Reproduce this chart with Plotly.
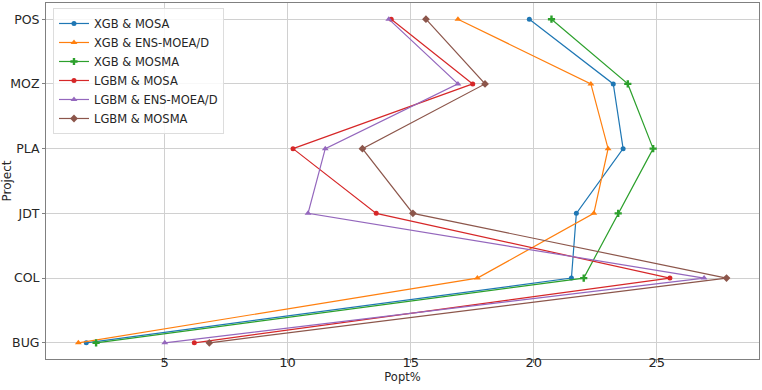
import plotly.graph_objects as go

projects = ["POS", "MOZ", "PLA", "JDT", "COL", "BUG"]

xgb_mosa = [19.82, 23.23, 23.63, 21.73, 21.53, 1.82]
xgb_ens = [16.92, 22.32, 23.02, 22.44, 17.71, 1.50]
xgb_mosma = [20.72, 23.82, 24.85, 23.43, 22.03, 2.22]
lgbm_mosa = [14.21, 17.52, 10.22, 13.60, 25.53, 6.21]
lgbm_ens = [14.11, 16.92, 11.53, 10.83, 26.92, 5.01]
lgbm_mosma = [15.62, 18.02, 13.04, 15.09, 27.83, 6.82]

series = [
    ("XGB & MOSA", xgb_mosa, "#1f77b4", "circle", 5),
    ("XGB & ENS-MOEA/D", xgb_ens, "#ff7f0e", "triangle-up", 6),
    ("XGB & MOSMA", xgb_mosma, "#2ca02c", "cross", 6),
    ("LGBM & MOSA", lgbm_mosa, "#d62728", "circle", 5),
    ("LGBM & ENS-MOEA/D", lgbm_ens, "#9467bd", "triangle-up", 6),
    ("LGBM & MOSMA", lgbm_mosma, "#8c564b", "diamond", 6),
]

fig = go.Figure()
for name, vals, color, sym, size in series:
    fig.add_trace(go.Scatter(
        x=vals, y=projects, mode="lines+markers", name=name,
        line=dict(color=color, width=1.2),
        marker=dict(symbol=sym, size=size, color=color),
    ))

font = "DejaVu Sans, Arial, sans-serif"
fig.update_layout(
    width=762, height=390,
    margin=dict(l=46, r=3, t=3, b=31),
    paper_bgcolor="white", plot_bgcolor="white",
    font=dict(family=font, size=12, color="#262626"),
    showlegend=True,
    legend=dict(
        x=0.0098, y=0.986, xanchor="left", yanchor="top",
        bgcolor="rgba(255,255,255,0.85)", bordercolor="#dddddd", borderwidth=1,
        font=dict(size=11.5, family=font), tracegroupgap=0, itemwidth=30,
    ),
    xaxis=dict(
        range=[0.185, 29.15], tickvals=[5, 10, 15, 20, 25],
        showgrid=True, gridcolor="#d0d0d0", gridwidth=1,
        showline=True, linecolor="#808080", mirror=True, linewidth=1,
        ticks="outside", ticklen=3, tickcolor="#808080", zeroline=False,
        tickfont=dict(size=13), automargin=False, ticklabelstandoff=-12,
        title=dict(text="Popt%", font=dict(size=11.5), standoff=4),
    ),
    yaxis=dict(
        categoryorder="array", categoryarray=["BUG", "COL", "JDT", "PLA", "MOZ", "POS"],
        range=[-0.25, 5.25],
        showgrid=True, gridcolor="#d0d0d0", gridwidth=1,
        showline=True, linecolor="#808080", mirror=True, linewidth=1,
        ticks="outside", ticklen=3, tickcolor="#808080", zeroline=False,
        tickfont=dict(size=12.5), automargin=False,
        title=dict(text="Project", font=dict(size=12), standoff=0),
    ),
)

fig.write_html("out.html", config={"displayModeBar": False},
               post_script="document.body.style.margin='0';")
